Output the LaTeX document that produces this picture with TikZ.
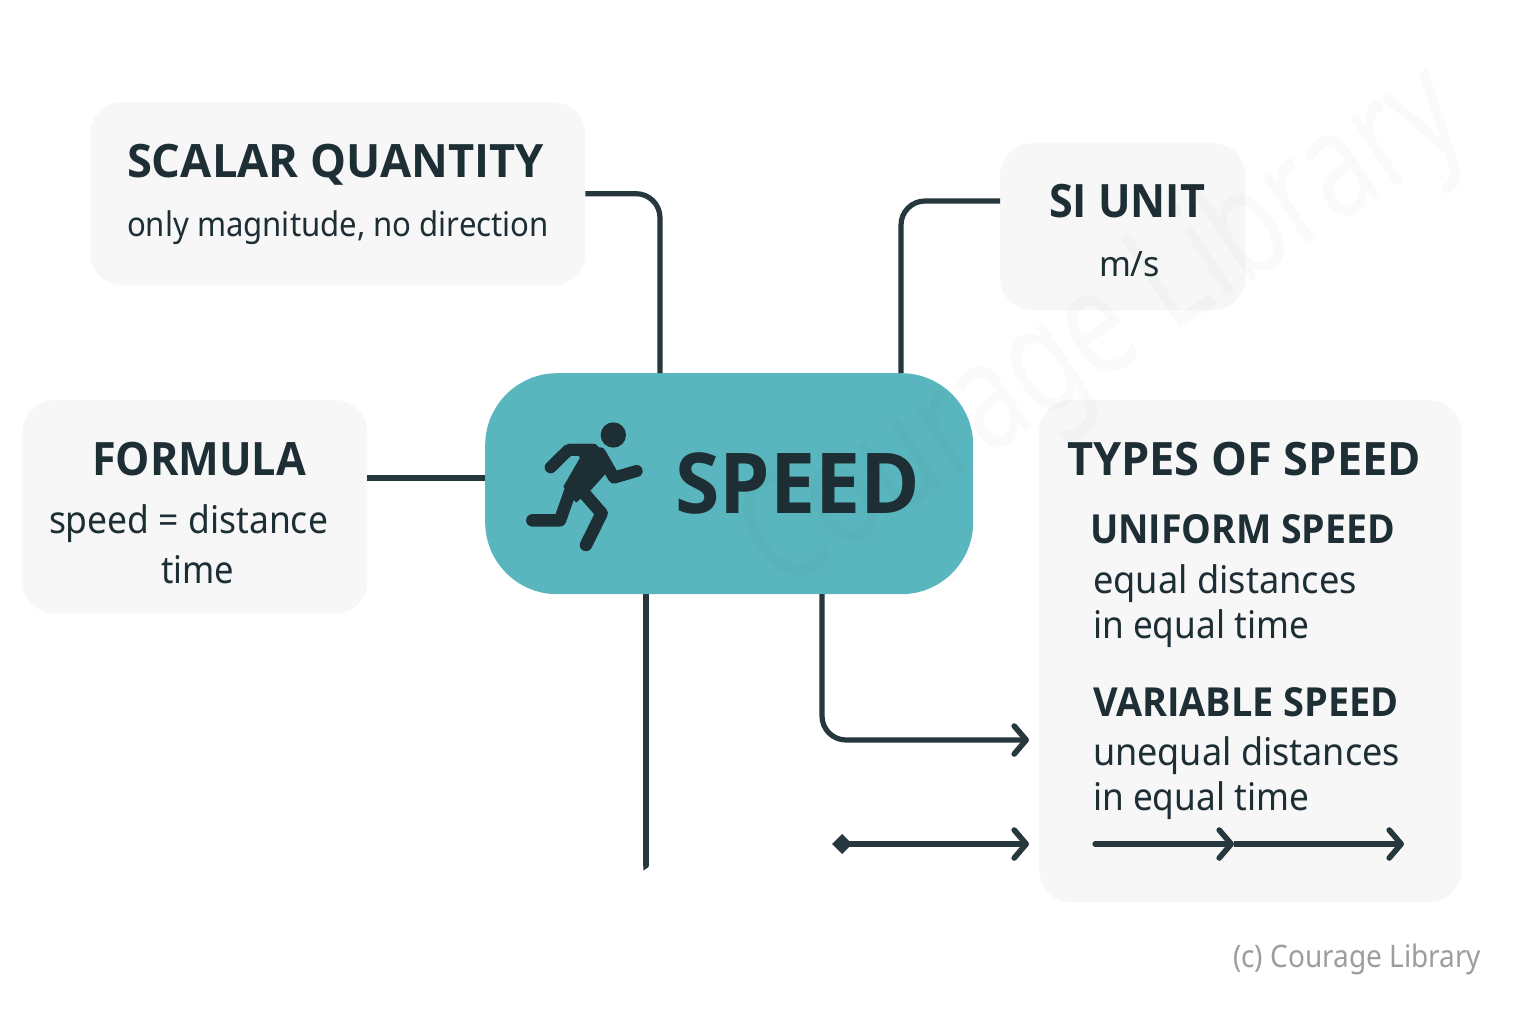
\documentclass[tikz,border=0pt]{standalone}
\usepackage{graphicx}
\usepackage{fontspec}
\setmainfont{Noto Sans}
\newfontfamily\hdfont{Open Sans}
\newfontfamily\wmfont{Noto Sans}
\usetikzlibrary{arrows.meta}
\definecolor{ink}{HTML}{1E2E35}
\definecolor{wire}{HTML}{26373E}
\definecolor{panel}{HTML}{F7F7F7}
\definecolor{teal}{HTML}{5AB6BE}
\definecolor{credit}{HTML}{9A9EA0}
% width, font size, text
\newcommand{\hdtext}[3]{\resizebox{#1pt}{\height}{\fontsize{#2pt}{#2pt}\hdfont\bfseries #3}}
\newcommand{\bdtext}[3]{\resizebox{#1pt}{\height}{\fontsize{#2pt}{#2pt}\selectfont #3}}
\tikzset{
  panelbox/.style={fill=panel,draw=none,rounded corners=32pt,inner sep=0pt,anchor=north west},
  lbl/.style={inner sep=0pt,outer sep=0pt,anchor=base west,text=ink},
  wirel/.style={draw=wire,line width=5.2pt,rounded corners=24pt},
  tip/.style={-{Straight Barb[length=12pt,width=28pt,line width=5.6pt,round]}},
  limb/.style={draw=ink,line cap=round,line join=round},
}
\begin{document}
\begin{tikzpicture}[x=1pt,y=-1pt]
\useasboundingbox[fill=white] (0,0) rectangle (1536,1024);
% panels
\node[panelbox,minimum width=495pt,minimum height=183pt] (scalar) at (90,102) {};
\node[panelbox,minimum width=245pt,minimum height=167pt] (si) at (1000,143) {};
\node[panelbox,minimum width=345pt,minimum height=213pt] (formula) at (22,400) {};
\node[panelbox,minimum width=422pt,minimum height=502pt] (types) at (1039,400) {};
\node[fill=teal,rounded corners=72pt,inner sep=0pt,anchor=north west,minimum width=488pt,minimum height=221pt] (speed) at (485,373) {};
% connector ends
\coordinate (sA) at (660,373);
\coordinate (sB) at (901,373);
\coordinate (sC) at (485,478);
\coordinate (sD) at (646,594);
\coordinate (sE) at (822,594);
\coordinate (siIn) at (1000,201);
\coordinate (foIn) at (367,478);
\coordinate (dropEnd) at (646,866);
\coordinate (arA) at (1029,740);
\coordinate (arS) at (832,844);
\coordinate (arB) at (1029,844);
\coordinate (arT) at (1095,844);
\coordinate (arM) at (1234,844);
\coordinate (arN) at (1404,844);
% connectors
\draw[wirel] (scalar.east) -- (sA |- scalar.east) -- (sA);
\draw[wirel] (siIn) -- (sB |- siIn) -- (sB);
\draw[wirel] (foIn) -- (sC);
\draw[wirel,line cap=butt] (sD) -- (dropEnd);
\fill[wire] (643.4,864) -- (648.6,864) -- (648.6,867) -- (643.4,870.5) -- cycle;
\draw[wirel,tip] (sE) -- (sE |- arA) -- (arA);
\draw[wire,line width=5.2pt,{Turned Square[length=20pt,width=20pt]}-{Straight Barb[length=12pt,width=28pt,line width=5.6pt,round]}] (arS) -- (arB);
\draw[wire,line width=5.2pt,line cap=round,tip] (arT) -- (arM);
\draw[wire,line width=5.2pt,tip] (arM) -- (arN);
% runner
\begin{scope}[shift={(500,390)},x=0.3333pt,y=-0.3333pt]
\fill[ink] (340,135) circle (38);
\fill[ink,line join=round] (205,162) -- (285,162) -- (325,200) -- (318,250) -- (273,300) -- (228,338) -- (190,290) -- (240,203) -- cycle;
\draw[limb,line width=12pt] (152,232) -- (205,180) -- (280,180);
\draw[limb,line width=12pt] (300,190) -- (342,263) -- (410,243);
\draw[limb,line width=12.5pt] (97,391) -- (180,391) -- (212,300);
\draw[limb,line width=12.5pt] (258,465) -- (305,370) -- (235,290);
\end{scope}
% labels
\node[lbl] (t1) at (127,178) {\hdtext{417}{46}{SCALAR QUANTITY}};
\node[lbl] (t2) at (127,237) {\bdtext{422}{34}{only magnitude, no direction}};
\node[lbl] (t3) at (1049,218) {\hdtext{156}{46}{SI UNIT}};
\node[lbl] (t4) at (1099,277) {\bdtext{61}{35}{m/s}};
\node[lbl] (t5) at (92,475) {\hdtext{214}{46}{FORMULA}};
\node[lbl] (t6) at (49,533) {\bdtext{279}{38}{speed = distance}};
\node[lbl] (t7) at (161,583) {\bdtext{73}{38}{time}};
\node[lbl] (t8) at (675,513) {\hdtext{245}{84}{SPEED}};
\node[lbl] (t9) at (1067,475) {\hdtext{354}{46}{TYPES OF SPEED}};
\node[lbl] (t10) at (1090,543) {\hdtext{305}{40}{UNIFORM SPEED}};
\node[lbl] (t11) at (1093,593) {\bdtext{264}{38}{equal distances}};
\node[lbl] (t12) at (1093,638) {\bdtext{216}{38}{in equal time}};
\node[lbl] (t13) at (1093,716) {\hdtext{306}{40}{VARIABLE SPEED}};
\node[lbl] (t14) at (1093,765) {\bdtext{307}{38}{unequal distances}};
\node[lbl] (t15) at (1093,810) {\bdtext{216}{38}{in equal time}};
\node[lbl,text=credit] (t16) at (1233,967) {\bdtext{248}{31}{(c) Courage Library}};
% watermark
\node[inner sep=0pt,rotate=33.5,text=black,text opacity=0.018] (wm) at (1105,332) {\resizebox{830pt}{\height}{\fontsize{150pt}{150pt}\wmfont Courage Library}};
\end{tikzpicture}
\end{document}
